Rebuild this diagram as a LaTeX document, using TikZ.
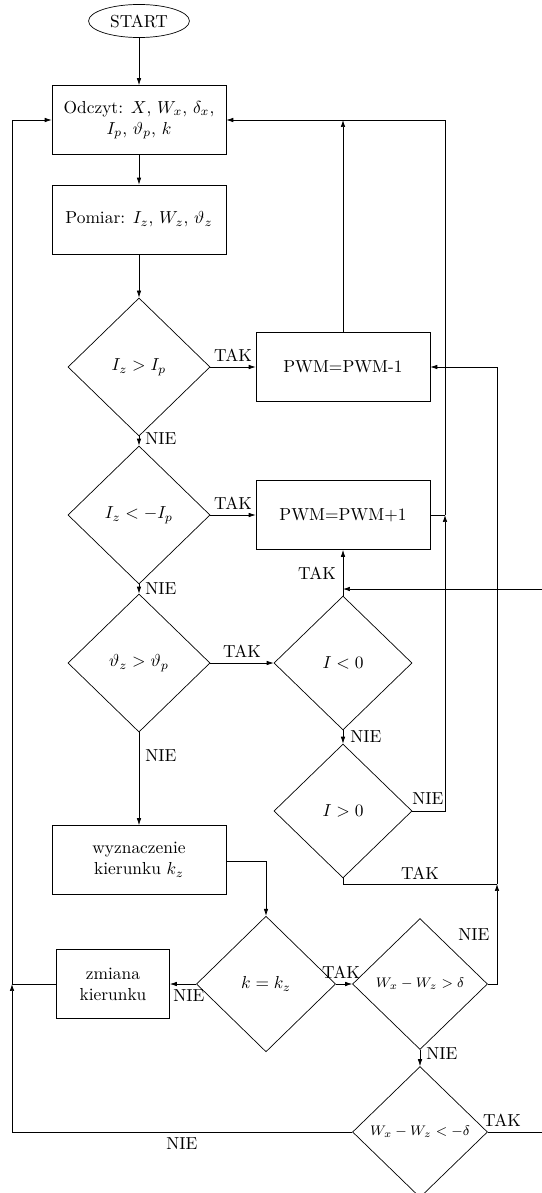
\documentclass[tikz,border=0pt]{standalone}
\usetikzlibrary{shapes.geometric,arrows.meta}
\begin{document}
\begin{tikzpicture}[x=0.575pt,y=-0.575pt,
 box/.style={draw, rectangle, minimum width=100pt, minimum height=39.7pt, align=center, inner sep=2pt},
 dia/.style={draw, diamond, inner sep=0pt, align=center},
 arr/.style={-{Latex[length=4pt,width=2.6pt]}},
 lbl/.style={inner sep=0pt}]
\useasboundingbox (0,0) rectangle (542,1193);
\clip (0,0) rectangle (542,1193);
% nodes
\node[draw, ellipse, minimum width=58pt, minimum height=19pt, inner sep=0pt] (start) at (139,21) {START};
\node[box] (odczyt) at (139,120) {Odczyt: $X$, $W_x$, $\delta_x$,\\ $I_p$, $\vartheta_p$, $k$};
\node[box] (pomiar) at (139,219.5) {Pomiar: $I_z$, $W_z$, $\vartheta_z$};
\node[dia, minimum width=81.7pt, minimum height=79.4pt] (d1) at (139,367) {$I_z > I_p$};
\node[box] (pwm1) at (343,367) {PWM=PWM-1};
\node[dia, minimum width=81.7pt, minimum height=79.4pt] (d2) at (139,515) {$I_z < -I_p$};
\node[box] (pwm2) at (343,515) {PWM=PWM+1};
\node[dia, minimum width=81.7pt, minimum height=79.4pt] (d3) at (139,663) {$\vartheta_z > \vartheta_p$};
\node[dia, minimum width=79.4pt, minimum height=77pt] (ilt) at (343,663) {$I < 0$};
\node[dia, minimum width=79.4pt, minimum height=77pt] (igt) at (343,811) {$I > 0$};
\node[box] (wyz) at (139,860) {wyznaczenie\\ kierunku $k_z$};
\node[dia, minimum width=80pt, minimum height=78pt] (kk) at (266,984) {$k = k_z$};
\node[box, minimum width=65pt] (zm) at (113,984) {zmiana\\ kierunku};
\node[dia, minimum width=77.6pt, minimum height=75.3pt] (wg) at (420,984) {\footnotesize $W_x - W_z > \delta$};
\node[dia, minimum width=77.6pt, minimum height=75.3pt] (wl) at (420,1132) {\footnotesize $W_x - W_z < -\delta$};
% junctions
\coordinate (jtop) at (343,120);
\coordinate (jr) at (445,120);
\coordinate (j2) at (445,515);
\coordinate (j2b) at (445,811);
\coordinate (j3) at (497,884);
\coordinate (j3t) at (497,367);
\coordinate (j3b) at (497,984);
\coordinate (igtb) at (343,884);
\coordinate (wyzr) at (266,861);
\coordinate (j4) at (12,984);
\coordinate (j4t) at (12,120);
\coordinate (j4b) at (12,1132);
\coordinate (edgeout) at (542,1132);
\coordinate (edgein) at (542,589);
\coordinate (jin) at (343,589);
% connectors
\draw[arr] (start) -- (odczyt);
\draw[arr] (odczyt) -- (pomiar);
\draw[arr] (pomiar) -- (d1);
\draw[arr] (d1.east) -- (pwm1.west);
\draw[arr] (d1.south) -- (d2.north);
\draw[arr] (d2.east) -- (pwm2.west);
\draw[arr] (d2.south) -- (d3.north);
\draw[arr] (d3.east) -- (ilt.west);
\draw[arr] (d3.south) -- (wyz.north);
\draw[arr] (pwm1.north) -- (jtop);
\draw (pwm2.east) -- (j2);
\draw[arr] (j2) -- (jr) -- (odczyt.east);
\draw[arr] (ilt.south) -- (igt.north);
\draw[arr] (igt.east) -- (j2b) -- (j2);
\draw[arr] (ilt.north) -- (pwm2.south);
\draw (igt.south) -- (igtb) -- (j3);
\draw[arr] (j3) -- (j3t) -- (pwm1.east);
\draw[arr] (wyz.east |- wyzr) -- (wyzr) -- (kk.north);
\draw[arr] (kk.west) -- (zm.east);
\draw (zm.west) -- (j4);
\draw[arr] (j4) -- (j4t) -- (odczyt.west);
\draw[arr] (kk.east) -- (wg.west);
\draw[arr] (wg.east) -- (j3b) -- (j3);
\draw[arr] (wg.south) -- (wl.north);
\draw[arr] (wl.west) -- (j4b) -- (j4);
\draw (wl.east) -- (edgeout);
\draw[arr] (edgein) -- (jin);
% labels
\node[lbl] (t1) at (233,355) {TAK};
\node[lbl] (t2) at (233,503) {TAK};
\node[lbl] (n1) at (161,439) {NIE};
\node[lbl] (n2) at (161,589) {NIE};
\node[lbl] (t3) at (242,651) {TAK};
\node[lbl] (n3) at (161,756) {NIE};
\node[lbl] (n4) at (366,737) {NIE};
\node[lbl] (t4) at (317,573) {TAK};
\node[lbl] (n5) at (428,799) {NIE};
\node[lbl] (t5) at (420,873) {TAK};
\node[lbl] (n6) at (474,935) {NIE};
\node[lbl] (t6) at (341,972) {TAK};
\node[lbl] (n7) at (189,996) {NIE};
\node[lbl] (n8) at (442,1054) {NIE};
\node[lbl] (t7) at (502,1120) {TAK};
\node[lbl] (n9) at (182,1144) {NIE};
\end{tikzpicture}
\end{document}
